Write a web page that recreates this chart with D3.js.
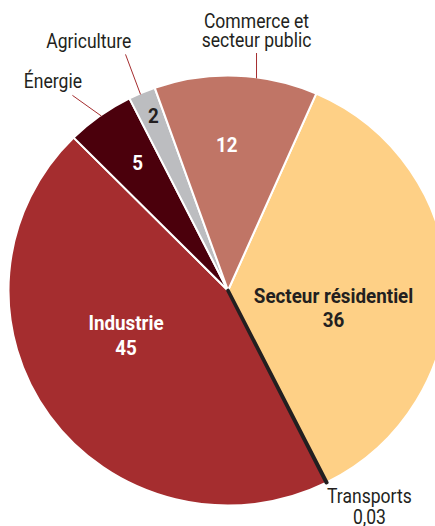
<!DOCTYPE html>
<html lang="fr">
<head>
<meta charset="utf-8">
<script src="https://cdn.jsdelivr.net/npm/d3@7"></script>
<style>
  html, body { margin: 0; padding: 0; background: #fff; }
  svg { display: block; }
  text { font-family: Roboto, "Liberation Sans", Arial, sans-serif; }
</style>
</head>
<body>
<svg id="chart" width="435" height="526"></svg>
<script>
// Répartition par secteur (%)
const categories = ["Secteur résidentiel", "Transports", "Industrie", "Énergie", "Agriculture", "Commerce et secteur public"];
const nameLines = [["Secteur résidentiel"], ["Transports"], ["Industrie"], ["Énergie"], ["Agriculture"], ["Commerce et", "secteur public"]];
const values = [36, 0.03, 45, 5, 2, 12];
const colors = ["#fed086", "#231f20", "#a52d2f", "#4b000c", "#bcbdc0", "#c07566"];

const fr = d3.formatLocale({ decimal: ",", thousands: "\u00a0", grouping: [3], currency: ["", " €"] });
const fmt = fr.format("~g");

const svg = d3.select("#chart");
const cx = 228, cy = 290.5, R = 215, sx = 1.021;
const deg = Math.PI / 180;
const startAngle = 23.7 * deg;

const pie = d3.pie().sort(null).value(d => d).startAngle(startAngle).endAngle(startAngle + 2 * Math.PI);
const arcs = pie(values);
const arc = d3.arc().innerRadius(0).outerRadius(R);

// point on the (slightly widened) pie at an angle (radians, clockwise from top) and radius
const pt = (a, r) => [cx + sx * r * Math.sin(a), cy - r * Math.cos(a)];
const mid = d => (d.startAngle + d.endAngle) / 2;

const g = svg.append("g").attr("transform", `translate(${cx},${cy}) scale(${sx},1)`);

g.selectAll("path.slice")
  .data(arcs)
  .join("path")
  .attr("class", "slice")
  .attr("d", arc)
  .attr("fill", (d, i) => colors[i])
  .attr("stroke", "#fff")
  .attr("stroke-width", 2)
  .attr("stroke-linejoin", "round");

// the very thin transport slice is drawn with a heavy outline so it stays visible
g.append("path")
  .datum(arcs[1])
  .attr("d", arc)
  .attr("fill", colors[1])
  .attr("stroke", colors[1])
  .attr("stroke-width", 3.6)
  .attr("stroke-linecap", "round")
  .attr("stroke-linejoin", "round");

const textDark = "#231f20", leader = "#a52d2f";
const regularStyle = { size: 19.5, weight: 400, squeeze: 0.9 };
const boldStyle = { size: 19.5, weight: 700, squeeze: 0.965 };

// multi-line label in a condensed setting, first baseline at (x, y)
function label(x, y, lines, style, fill, anchor, gap) {
  const t = svg.append("text")
    .attr("transform", `translate(${x},${y}) scale(${style.squeeze},1)`)
    .attr("text-anchor", anchor)
    .attr("font-size", style.size)
    .attr("font-weight", style.weight)
    .attr("fill", fill);
  lines.forEach((s, k) => t.append("tspan").attr("x", 0).attr("y", k * gap).text(s));
  return t;
}

// labels placed inside their slices: [slice index, angle shift (deg), radius fraction, show name, colour]
const inside = [
  [0, 8.2, 0.484, true, textDark],
  [2, 14, 0.50, true, "#fff"],
  [3, -0.6, 0.695, false, "#fff"],
  [4, -0.5, 0.849, false, textDark],
  [5, -2.6, 0.646, false, "#fff"]
];

inside.forEach(([i, da, rf, showName, col]) => {
  const [x, y] = pt(mid(arcs[i]) + da * deg, rf * R);
  const lines = showName ? [...nameLines[i], fmt(values[i])] : [fmt(values[i])];
  label(x, y, lines, boldStyle, col, "middle", 24.5);
});

// outside labels with leader lines: [slice index, leader angle (deg), leader end offset, text offset from leader end, anchor]
const outside = [
  [5, 7.5, [0, -25.3], [0, -6], "middle"],
  [4, 336.4 - 360, [-15, -40], [5.8, -6], "end"],
  [3, 324.6 - 360, [-29, -20.7], [9.6, -7.6], "end"]
];

outside.forEach(([i, a, [ldx, ldy], [tdx, tdy], anchor]) => {
  const [x0, y0] = pt(a * deg, R - 1);
  const x1 = x0 + ldx, y1 = y0 + ldy;
  svg.append("line")
    .attr("x1", x0).attr("y1", y0).attr("x2", x1).attr("y2", y1)
    .attr("stroke", leader).attr("stroke-width", 1);
  const lines = nameLines[i];
  label(x1 + tdx, y1 + tdy - (lines.length - 1) * 19.3, lines, regularStyle, textDark, anchor, 19.3);
});

// transport label below the end of its slice
{
  const [x0, y0] = pt(arcs[1].endAngle, R);
  label(x0 + 43, y0 + 20, [nameLines[1][0], fmt(values[1])], regularStyle, textDark, "middle", 21);
}
</script>
</body>
</html>
